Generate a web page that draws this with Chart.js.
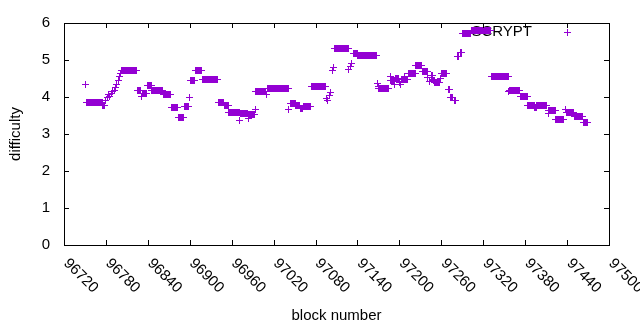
<!DOCTYPE html>
<html>
<head>
<meta charset="utf-8">
<script src="https://cdn.jsdelivr.net/npm/chart.js@4.4.1/dist/chart.umd.min.js"></script>
<style>
  html, body { margin: 0; padding: 0; background: #fff; }
</style>
</head>
<body>
<canvas id="chart" width="640" height="330"></canvas>
<script>
// difficulty is constant inside a run of blocks: first block, last block, value
const runStart = [96750, 96751, 96775, 96779, 96781, 96783, 96785, 96787, 96789, 96791, 96793, 96795, 96797, 96799, 96800,
  96802, 96824, 96830, 96831, 96839, 96845, 96861, 96873, 96883, 96892, 96899, 96900, 96907, 96917, 96940, 96949, 96955,
  96971, 96972, 96983, 96984, 96993, 96994, 97009, 97011, 97041, 97043, 97051, 97058, 97062, 97073, 97095, 97097, 97099,
  97101, 97103, 97105, 97107, 97127, 97129, 97131, 97133, 97140, 97168, 97169, 97170, 97186, 97187, 97193, 97194, 97199,
  97201, 97202, 97207, 97208, 97212, 97223, 97232, 97240, 97242, 97245, 97247, 97248, 97250, 97258, 97259, 97270, 97273,
  97278, 97283, 97287, 97290, 97302, 97331, 97356, 97357, 97372, 97383, 97393, 97396, 97412, 97413, 97423, 97437, 97438,
  97450, 97463];
const runEnd = [96750, 96774, 96777, 96779, 96781, 96783, 96785, 96787, 96789, 96791, 96793, 96795, 96797, 96799, 96800,
  96823, 96829, 96830, 96838, 96844, 96860, 96872, 96882, 96891, 96898, 96899, 96906, 96916, 96939, 96948, 96954, 96970,
  96971, 96982, 96983, 96992, 96993, 97007, 97009, 97040, 97041, 97050, 97057, 97061, 97072, 97093, 97095, 97097, 97099,
  97101, 97103, 97105, 97126, 97127, 97129, 97131, 97139, 97167, 97168, 97169, 97184, 97186, 97192, 97193, 97198, 97199,
  97201, 97206, 97207, 97211, 97222, 97231, 97239, 97240, 97243, 97246, 97247, 97249, 97257, 97258, 97267, 97271, 97276,
  97280, 97284, 97288, 97301, 97330, 97355, 97356, 97371, 97382, 97392, 97395, 97410, 97412, 97422, 97434, 97437, 97449,
  97462, 97469];
const runValue = [4.35, 3.87, 3.78, 3.93, 4.0, 4.07, 4.03, 4.12, 4.15, 4.2, 4.28, 4.36, 4.45, 4.56, 4.66,
  4.72, 4.18, 4.02, 4.1, 4.32, 4.18, 4.08, 3.73, 3.47, 3.76, 4.0, 4.47, 4.74, 4.48, 3.87, 3.78, 3.6,
  3.38, 3.56, 3.44, 3.55, 3.67, 4.16, 4.07, 4.24, 3.67, 3.85, 3.78, 3.7, 3.75, 4.29, 3.98, 3.93, 4.05,
  4.13, 4.72, 4.82, 5.32, 4.75, 4.85, 4.93, 5.19, 5.14, 4.38, 4.3, 4.24, 4.57, 4.47, 4.36, 4.52, 4.4,
  4.36, 4.5, 4.58, 4.5, 4.66, 4.87, 4.69, 4.55, 4.42, 4.6, 4.5, 4.46, 4.4, 4.52, 4.66, 4.22, 4.0,
  3.93, 5.1, 5.22, 5.72, 5.82, 4.57, 4.16, 4.2, 4.02, 3.78, 3.74, 3.79, 3.58, 3.65, 3.4, 3.67, 3.59,
  3.49, 3.33];

const seriesName = "SCRYPT";
const xMin = 96720, xMax = 97500, xStep = 60;
const yMin = 0, yMax = 6, yStep = 1;
const purple = "#9400d3";
const textFont = "15px 'Liberation Sans', Arial, sans-serif";

// one point per block
var points = [];
for (var i = 0; i < runStart.length; i++) {
    for (var b = runStart[i]; b <= runEnd[i]; b++) {
        points.push({x: b, y: runValue[i]});
    }
}

Chart.defaults.font.family = "'Liberation Sans', Arial, sans-serif";
Chart.defaults.color = "#000";

// crisp 7px "+" like gnuplot, at the positions chart.js computed
function drawPlus(ctx, x, y) {
    var px = Math.round(x), py = Math.round(y);
    ctx.fillRect(px - 3, py, 7, 1);
    ctx.fillRect(px, py - 3, 1, 7);
}

const crispPoints = {
    id: "crispPoints",
    beforeDatasetsDraw(chart) {
        // key text goes under the data, like gnuplot does it
        const ctx = chart.ctx;
        ctx.save();
        ctx.fillStyle = "#000";
        ctx.font = textFont;
        ctx.textAlign = "right";
        ctx.textBaseline = "middle";
        ctx.fillText(seriesName, 532, 32);
        ctx.restore();
    },
    beforeDatasetDraw(chart, args) {
        const ctx = chart.ctx;
        ctx.save();
        ctx.fillStyle = purple;
        args.meta.data.forEach(el => drawPlus(ctx, el.x, el.y));
        drawPlus(ctx, 567, 32); // key sample
        ctx.restore();
        return false;
    }
};

// gnuplot look: box border, inward ticks, rotated x labels, titles
const gnuplotFrame = {
    id: "gnuplotFrame",
    afterDraw(chart) {
        const ctx = chart.ctx;
        const a = chart.chartArea;
        const xs = chart.scales.x, ys = chart.scales.y;
        ctx.save();
        ctx.strokeStyle = "#000";
        ctx.lineWidth = 1;
        ctx.strokeRect(a.left + 0.5, a.top + 0.5, a.right - a.left, a.bottom - a.top);

        ctx.beginPath();
        xs.ticks.forEach(t => {
            var px = Math.round(xs.getPixelForValue(t.value)) + 0.5;
            ctx.moveTo(px, a.bottom); ctx.lineTo(px, a.bottom - 5);
            ctx.moveTo(px, a.top); ctx.lineTo(px, a.top + 5);
        });
        ys.ticks.forEach(t => {
            var py = Math.round(ys.getPixelForValue(t.value)) + 0.5;
            ctx.moveTo(a.left, py); ctx.lineTo(a.left + 5, py);
            ctx.moveTo(a.right, py); ctx.lineTo(a.right - 5, py);
        });
        ctx.stroke();

        // x tick labels, rotated by -45 (gnuplot sense)
        ctx.fillStyle = "#000";
        ctx.font = textFont;
        ctx.textAlign = "left";
        ctx.textBaseline = "middle";
        xs.ticks.forEach(t => {
            var px = xs.getPixelForValue(t.value);
            ctx.save();
            ctx.translate(px + 2, a.bottom + 16);
            ctx.rotate(Math.PI / 4);
            ctx.fillText(String(t.value), 0, 0);
            ctx.restore();
        });

        // axis titles
        ctx.textAlign = "center";
        ctx.fillText("block number", (a.left + a.right) / 2, 316);
        ctx.save();
        ctx.translate(16, (a.top + a.bottom) / 2);
        ctx.rotate(-Math.PI / 2);
        ctx.fillText("difficulty", 0, 0);
        ctx.restore();
        ctx.restore();
    }
};

new Chart("chart", {
    type: "scatter",
    data: {
        datasets: [{
            label: seriesName,
            data: points,
            pointStyle: "cross",
            radius: 3.5,
            borderWidth: 1,
            borderColor: purple,
            backgroundColor: purple,
            showLine: false
        }]
    },
    options: {
        responsive: false,
        animation: false,
        events: [],
        layout: { padding: { top: 19, right: 31, left: 0, bottom: 0 } },
        plugins: { legend: { display: false }, tooltip: { enabled: false } },
        scales: {
            x: {
                type: "linear",
                min: xMin, max: xMax,
                grid: { display: false },
                border: { display: false },
                ticks: { stepSize: xStep, display: false, autoSkip: false },
                afterFit(scale) { scale.height = 85; }
            },
            y: {
                type: "linear",
                min: yMin, max: yMax,
                grid: { display: false, drawTicks: false },
                border: { display: false },
                ticks: { stepSize: yStep, padding: 14, font: { size: 15 } },
                afterFit(scale) { scale.width = 64; }
            }
        }
    },
    plugins: [crispPoints, gnuplotFrame]
});
</script>
</body>
</html>
